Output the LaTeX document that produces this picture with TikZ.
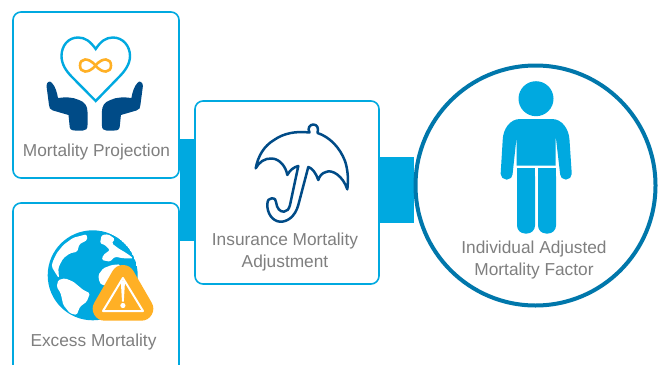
\documentclass[tikz,border=0pt]{standalone}
\usepackage{fontspec}
\setmainfont{Liberation Sans}
\usepackage{tikz}
\usetikzlibrary{positioning,backgrounds}
\definecolor{skyblue}{HTML}{00A9E0}
\definecolor{ringblue}{HTML}{0077AB}
\definecolor{navyblue}{HTML}{004B87}
\definecolor{alertorange}{HTML}{FFB025}
\definecolor{labelgray}{HTML}{7F7F7F}
\tikzset{
    card/.style={draw=skyblue, fill=white, line width=1.6pt, rounded corners=8pt, inner sep=0pt},
    caption/.style={text=labelgray, font=\fontsize{17.3}{22}\selectfont, align=center, inner sep=0pt},
    linkbar/.style={draw=skyblue},
    land/.style={fill=white, rounded corners=1.5pt}
}
\newcommand{\handshape}{(46.5,86) .. controls (46.5,82) and (50,80) .. (52,83) .. controls (55,86) and (57,92) .. (58,98)
                        .. controls (65,97) and (73,97) .. (79,100) .. controls (85,102) and (87.5,106) .. (87.5,112) -- (87.5,125)
                        .. controls (87.5,129) and (86,130.5) .. (83,130.5) -- (75,130.5) .. controls (71,130.5) and (69.5,129) .. (69.5,125)
                        -- (68.5,115) -- (53,110.5) .. controls (50,109.5) and (49,108) .. (49,105) -- cycle}
\begin{document}
\begin{tikzpicture}[x=1pt, y=-1pt]
    \clip [use as bounding box] (0,0) rectangle (658,364);

    \node [card, minimum width=166pt, minimum height=166pt] (projection) at (96,95) {};
    \node [card, minimum width=166pt, minimum height=172pt] (excess) at (96,289) {};
    \node [card, minimum width=184pt, minimum height=183pt] (adjustment) at (287,192.5) {};
    \node [circle, draw=ringblue, fill=white, line width=4pt, minimum size=240pt, inner sep=0pt] (factor) at (535.5,185.5) {};

    \begin{scope}[on background layer]
        \fill [white] (0,0) rectangle (658,364);
        \draw [linkbar, line width=102pt] ([yshift=2.5pt]adjustment.west) -- ([yshift=2.5pt]adjustment.west -| projection.east);
        \draw [linkbar, line width=66pt]  ([yshift=2.5pt]adjustment.east) -- ([yshift=2.5pt]adjustment.east -| factor.west);
    \end{scope}

    \draw [skyblue, line width=2.4pt, line join=miter] (95.7,49) .. controls (90,41) and (85,37.5) .. (78,37.5)
                  .. controls (68,37.5) and (61.5,46) .. (61.5,56) .. controls (61.5,64) and (66,71) .. (72,77)
                  -- (95.7,101) -- (119,77) .. controls (125,71) and (130,64) .. (130,56)
                  .. controls (130,46) and (123,37.5) .. (113,37.5) .. controls (106,37.5) and (101,41) .. cycle;
    \draw [alertorange, line width=2.6pt] (95.5,65.5) .. controls (91,60) and (87,59.5) .. (85,59.5)
                  .. controls (82,59.5) and (80,62) .. (80,65.5) .. controls (80,69) and (82,71.5) .. (85,71.5)
                  .. controls (87,71.5) and (91,71) .. (95.5,65.5) .. controls (100,60) and (104,59.5) .. (106,59.5)
                  .. controls (109,59.5) and (111,62) .. (111,65.5) .. controls (111,69) and (109,71.5) .. (106,71.5)
                  .. controls (104,71.5) and (100,71) .. cycle;
    \fill [navyblue] \handshape;
    \begin{scope}[shift={(189.4,0)}, xscale=-1]
        \fill [navyblue] \handshape;
    \end{scope}

    \begin{scope}
        \clip (92.7,275.3) circle [radius=45];
        \fill [skyblue] (92.7,275.3) circle [radius=45];
        \fill [land] (86.7,234.3) -- (73.3,237.7) -- (63.3,245) -- (56.7,253.3) -- (52.7,261.7) -- (51.7,266.7) -- (56.7,275) -- (59,278.3)
                     -- (58.3,268.3) -- (60,264.3) -- (63.3,258.3) -- (70,253.3) -- (77.3,251.7) -- (79.3,244.3) -- (87.3,240) -- cycle;
        \fill [land] (58.3,280) -- (65,278.3) -- (73.3,281.7) -- (83.3,290) -- (90,293.3) -- (86.7,301.7) -- (80,306.7) -- (76.7,315)
                     -- (70,313.3) -- (63.3,305) -- (60.7,293.3) -- (56.7,286.7) -- cycle;
        \fill [land] (101.7,235) -- (108.3,234.3) -- (115,239) -- (111.7,243.3) -- (118.3,248.3) -- (126.7,253.3) -- (133.3,258.3) -- (123.3,258.3)
                     -- (115,256.7) -- (110,261.7) -- (101.7,260) -- (103.3,255) -- (110,250) -- (105,245) -- (100,243.3) -- cycle;
        \fill [land] (98.3,275) -- (103.3,268.3) -- (111.7,265) -- (120,264.3) -- (125,285) -- (101.7,285) -- (99.3,281.7) -- cycle;
    \end{scope}
    \draw [alertorange, fill=alertorange, line width=24pt, line join=round] (123,277) -- (104.7,308.7) -- (141.3,308.7) -- cycle;
    \draw [white, line width=2pt, line join=round] (122.9,278) -- (103,311) -- (143,311) -- cycle;
    \fill [white] (120.9,283) .. controls (120.9,279.5) and (124.9,279.5) .. (124.9,283) -- (123.8,301.5) -- (122,301.5) -- cycle;
    \fill [white] (122.9,305.5) circle [radius=2.6];

    \draw [navyblue, line width=2.5pt, line join=round, line cap=round]
                  (255.7,168.3) .. controls (258,156) and (264,146) .. (274,140)
                  .. controls (284,133) and (296,131) .. (309.5,132.5)
                  .. controls (307,128) and (310,124.5) .. (313.3,124.5) .. controls (317,124.5) and (319,128) .. (317.5,133)
                  .. controls (330,137) and (340,148) .. (345,161) .. controls (348,170) and (348.5,180) .. (347.3,189.3)
                  .. controls (343,176) and (332,169) .. (326,172) .. controls (322,173) and (319.5,176) .. (318.3,180)
                  .. controls (316,173) and (312,168) .. (308.3,167)
                  -- (298.3,205) .. controls (295,217) and (287,222) .. (280,221.7)
                  .. controls (272,221) and (267.3,213) .. (267.3,205) .. controls (267.3,200) and (269,198.3) .. (271.7,198.3)
                  .. controls (275,198.3) and (276,200) .. (276,202) .. controls (277,209) and (280,211.7) .. (284,211.7)
                  .. controls (287,211.7) and (289,209) .. (290,205)
                  -- (298.3,166) .. controls (294,167) and (290,170) .. (287.3,175)
                  .. controls (286,167) and (280,159) .. (272,158.5) .. controls (265,158) and (259,162) .. (255.7,168.3);

    \fill [skyblue] (536,98.7) circle [radius=17.5];
    \fill [skyblue] (520,119) -- (552,119) .. controls (562,119) and (569,129) .. (569.5,140) -- (571.7,173)
                  [rounded corners=5.5pt] -- (571.7,179.5) -- (560,179.5) [sharp corners] -- (560,173)
                  -- (555.7,136) -- (555.7,165.7) -- (516.7,165.7) -- (516.7,136) -- (512.7,173)
                  [rounded corners=5.5pt] -- (512.7,179.5) -- (500.7,179.5) [sharp corners] -- (500.7,173)
                  -- (502.7,140) .. controls (503,129) and (510,119) .. (520,119) -- cycle;
    \fill [skyblue, rounded corners=8pt] (517,168.3) rectangle (535,233.5);
    \fill [skyblue, rounded corners=8pt] (538,168.3) rectangle (556,233.5);
    \fill [skyblue] (517,168.3) rectangle (535,180);
    \fill [skyblue] (538,168.3) rectangle (556,180);

    \node [caption] (projectiontext) at (96.5,152.5) {Mortality Projection};
    \node [caption] (excesstext) at (93.5,342.5) {Excess Mortality};
    \node [caption] (adjustmenttext) at (285,252) {Insurance Mortality\\Adjustment};
    \node [caption] (factortext) at (534,260.5) {Individual Adjusted\\Mortality Factor};
\end{tikzpicture}
\end{document}
